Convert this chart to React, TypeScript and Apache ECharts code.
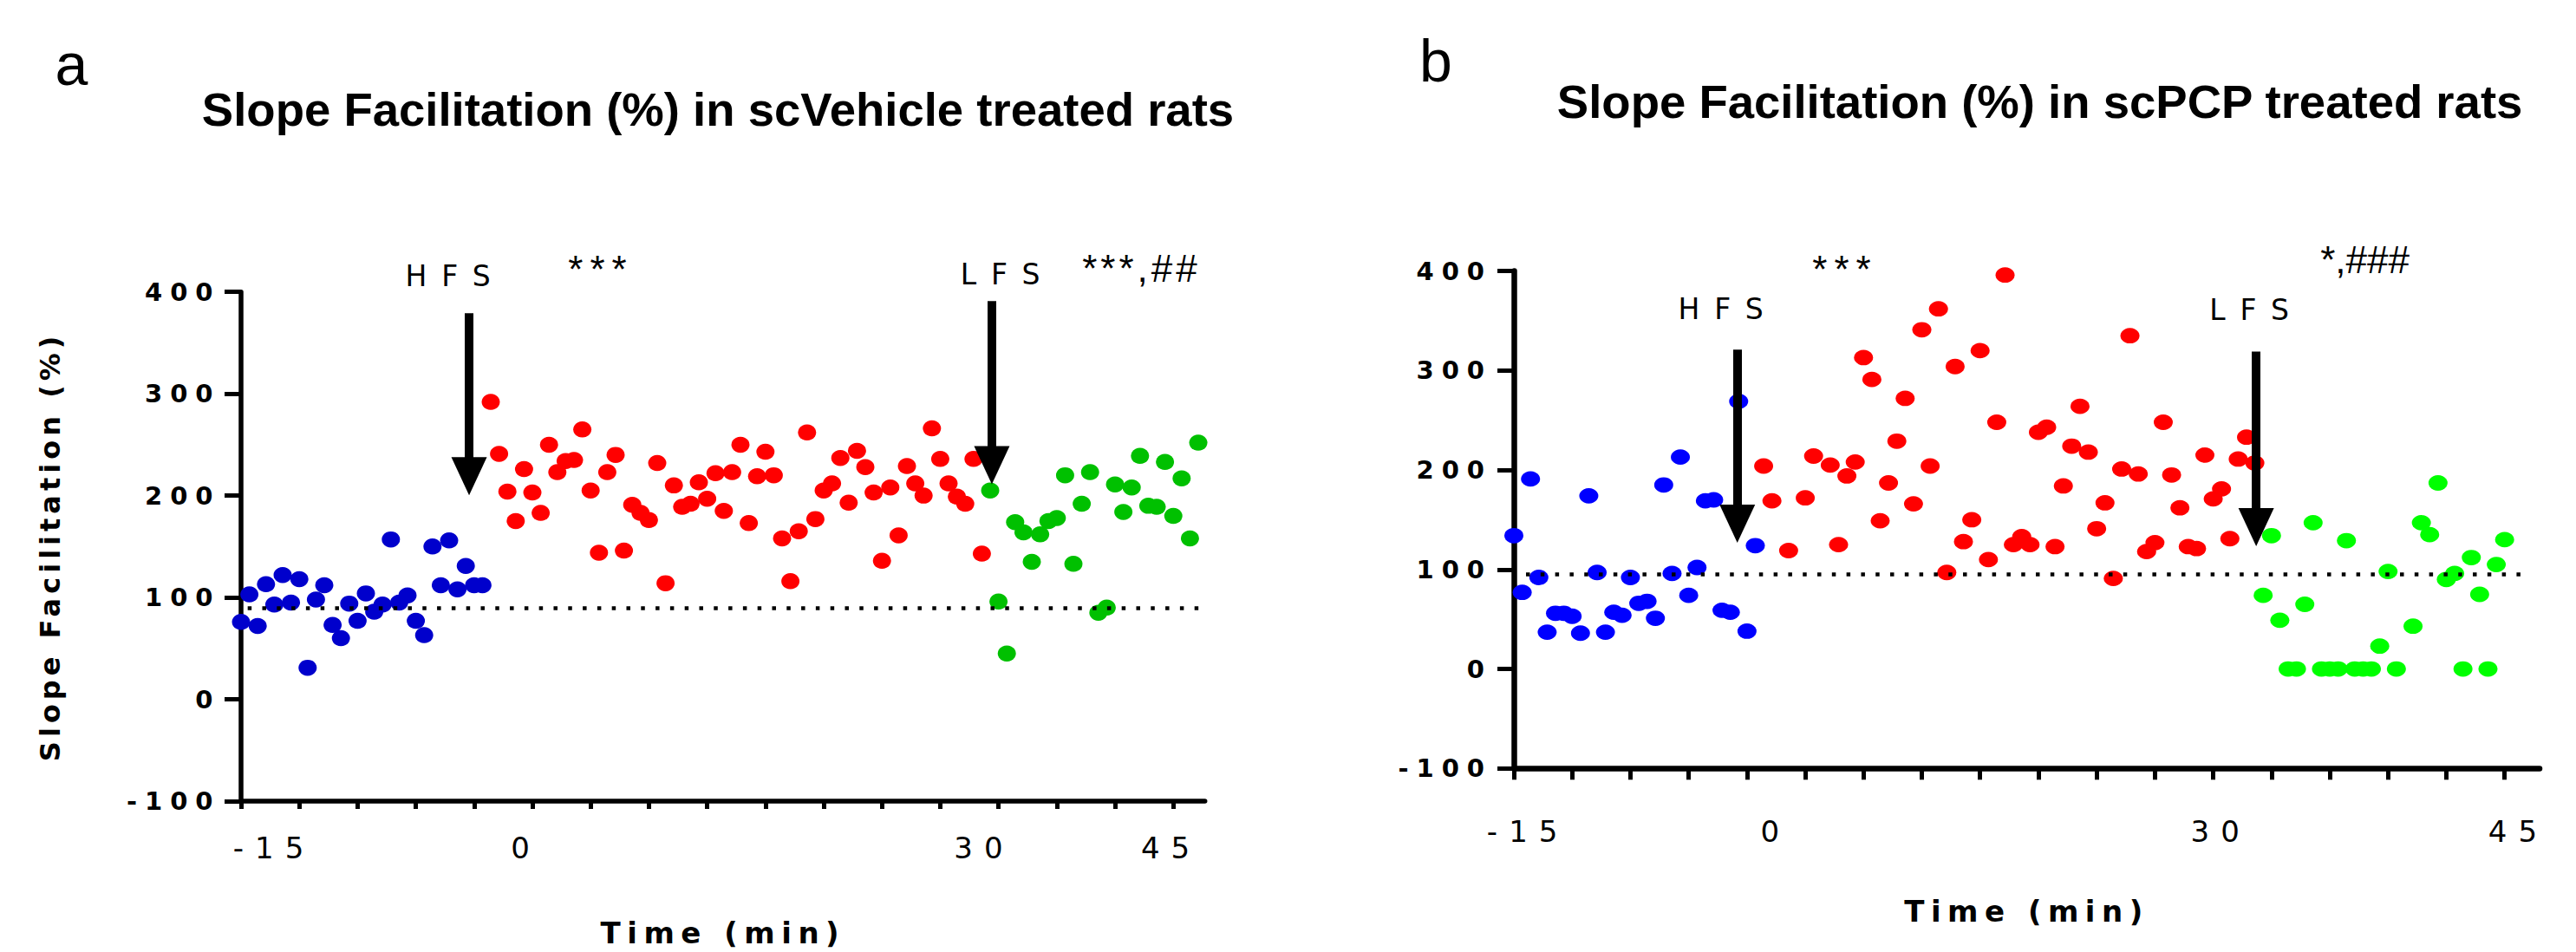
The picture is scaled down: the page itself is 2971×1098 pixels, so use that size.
import React, { useEffect, useRef } from "react";
import * as echarts from "echarts";

// ---------------- data ----------------
// one sweep every 0.5 min; baseline starts at -15 min, HFS phase at 0, LFS phase at 30
const SAMPLE_STEP = 0.5;
const BASELINE_START = -15;
const HFS_START = 0;
const LFS_START = 30;

// panel a : scVehicle treated rats
const vehicleBaseline = [76, 103, 72, 113, 93, 122, 95, 118, 31, 98, 112, 73, 60, 94, 77, 104, 86, 93, 157, 95, 102, 77, 63, 150, 112, 156, 108, 131, 112, 112];
const vehicleAfterHFS = [
  292, 241, 204, 175, 226, 203, 183, 250, 223, 234,
  235, 265, 205, 144, 223, 240, 146, 191, 183, 176,
  232, 114, 210, 189, 192, 213, 197, 222, 185, 223,
  250, 173, 219, 243, 220, 158, 116, 165, 262, 177,
  205, 212, 237, 193, 244, 228, 203, 136, 208, 161,
  229, 212, 200, 266, 236, 212, 199, 192, 236, 143,
];
const vehicleAfterLFS = [205, 96, 45, 174, 164, 135, 162, 175, 178, 220, 133, 192, 223, 85, 90, 211, 184, 208, 239, 190, 189, 233, 180, 217, 158, 252];

// panel b : scPCP treated rats (null = no point visible)
const pcpBaseline = [134, 77, 191, 92, 37, 56, 56, 53, 36, 174, 97, 37, 57, 54, 92, 66, 68, 51, 185, 96, 213, 74, 102, 169, 170, 59, 57, 269, 38, 124];
const pcpAfterHFS = [
  204, 169, null, 119, null, 172, 214, null, 205, 125,
  194, 208, 313, 291, 149, 187, 229, 272, 166, 341,
  204, 362, 97, 304, 128, 150, 320, 110, 248, 396,
  125, 133, 125, 238, 243, 123, 184, 224, 264, 218,
  141, 167, 91, 201, 335, 196, 118, 127, 248, 195,
  162, 123, 121, 215, 171, 181, 131, 211, 233, 207,
];
const pcpAfterLFS = [
  74, 134, 49, 0, 0, 65, 147, 0, 0, 0,
  129, 0, 0, 0, 23, 98, 0, null, 43, 147,
  135, 187, 90, 96, 0, 112, 75, 0, 105, 130,
];

// reference (dotted) level of each panel
const refLevelA = 90;
const refLevelB = 95;

// axes
const Y_MIN = -100;
const Y_MAX = 400;
const Y_STEP = 100;
const xTickLabels = ["-15", "0", "30", "45"];
const X_TICK_STEP = 3.5;

// stimulation arrows: [time, shaft top, head centre]
const hfsArrowA = [-1.3, 379, 219];
const lfsArrowA = [30.1, 391, 230];
const hfsArrowB = [-1.58, 321, 146];
const lfsArrowB = [29.58, 319, 142.5];

// ---------------- layout ----------------
const FONT = "'Liberation Sans', Arial, sans-serif";
const sp = (n: string) => `'Liberation Sans', zsp${n}, sans-serif`;
const dj = (n: string) => `'DejaVu Sans', zsp${n}, sans-serif`;

const xMaxA = 42.9;
const xMaxB = 46.6;
const xLabelAtA = [-13.02, 2.11, 29.63, 40.86];
const xLabelAtB = [-14.16, 0.72, 27.45, 45.32];
const ticksA = Array.from({ length: 17 }, (_, k) => BASELINE_START + X_TICK_STEP * k);
const ticksB = Array.from({ length: 18 }, (_, k) => BASELINE_START + X_TICK_STEP * k);

const CSS = `
body{margin:0}
text[style*="zsp02"]{letter-spacing:2px}
text[style*="zsp04"]{letter-spacing:4px}
text[style*="zsp05"]{letter-spacing:5px}
text[style*="zsp08"]{letter-spacing:8px}
text[style*="zsp09"]{letter-spacing:9px}
text[style*="zsp13"]{letter-spacing:13px}
text[style*="zsp17"]{letter-spacing:17px}
text[style*="zsp75"]{letter-spacing:7.5px}
`;

function toPoints(start: number, values: (number | null)[]) {
  const out: number[][] = [];
  values.forEach((v, k) => {
    if (v !== null && v !== undefined) out.push([start + k * SAMPLE_STEP, v]);
  });
  return out;
}

function labelFor(positions: number[]) {
  return (v: number) => {
    let best = 0;
    let bestD = Infinity;
    positions.forEach((p, i) => {
      const d = Math.abs(p - v);
      if (d < bestD) {
        bestD = d;
        best = i;
      }
    });
    return xTickLabels[best];
  };
}

function xAxisOf(grid: number, max: number, ticks: number[], labelAt: number[], lw: number, tickLen: number, labelMargin: number, nameGap: number) {
  return {
    type: "value",
    gridIndex: grid,
    min: BASELINE_START,
    max,
    axisLine: { show: true, onZero: false, lineStyle: { color: "#000", width: lw } },
    axisTick: { show: true, customValues: ticks, length: tickLen, lineStyle: { color: "#000", width: 5 } },
    axisLabel: {
      show: true,
      customValues: labelAt,
      formatter: labelFor(labelAt),
      margin: labelMargin,
      color: "#000",
      fontSize: 34,
      fontFamily: dj("13"),
    },
    splitLine: { show: false },
    name: "Time (min)",
    nameLocation: "middle",
    nameGap,
    nameTextStyle: { color: "#000", fontSize: 34, fontWeight: "bold", fontFamily: dj("75") },
  };
}

function yAxisOf(grid: number, lw: number, margin: number, withName: boolean) {
  const ax: any = {
    type: "value",
    gridIndex: grid,
    min: Y_MIN,
    max: Y_MAX,
    interval: Y_STEP,
    axisLine: { show: true, onZero: false, lineStyle: { color: "#000", width: lw } },
    axisTick: { show: true, length: 19, lineStyle: { color: "#000", width: 5 } },
    axisLabel: { show: true, margin, color: "#000", fontSize: 29, fontWeight: "bold", fontFamily: dj("09") },
    splitLine: { show: false },
  };
  if (withName) {
    ax.name = "Slope Facilitation (%)";
    ax.nameLocation = "middle";
    ax.nameGap = 204;
    ax.nameTextStyle = { color: "#000", fontSize: 32, fontWeight: "bold", fontFamily: dj("05") };
  }
  return ax;
}

function arrow(a: number[]) {
  return [
    { coord: [a[0], a[1]], lineStyle: { type: "solid", width: 10, color: "#000" } },
    { coord: [a[0], a[2]], symbol: "triangle", symbolSize: [41, 44] },
  ];
}

function dotted(level: number, from: number, to: number) {
  return [
    { coord: [from, level], lineStyle: { type: [4.5, 12.3], width: 4.5, color: "#000" } },
    { coord: [to, level] },
  ];
}

function scatter(grid: number, data: number[][], color: string, size: number[]) {
  return {
    type: "scatter",
    xAxisIndex: grid,
    yAxisIndex: grid,
    data,
    symbol: "circle",
    symbolSize: size,
    itemStyle: { color, opacity: 1 },
    clip: false,
    silent: true,
  };
}

function txt(text: string, x: number, y: number, fontSize: number, family: string, bold = false) {
  return {
    type: "text",
    x,
    y,
    silent: true,
    style: {
      text,
      fontSize,
      fontFamily: family,
      fontWeight: bold ? "bold" : "normal",
      fill: "#000",
      align: "center",
      verticalAlign: "middle",
    },
  };
}

export default function App() {
  const ref = useRef<HTMLDivElement>(null);

  useEffect(() => {
    if (!ref.current) return;
    const chart = echarts.init(ref.current, null, { renderer: "svg" });

    const sizeA = [21, 18.5];
    const sizeB = [22, 17.8];

    const greenASeries: any = scatter(0, toPoints(LFS_START, vehicleAfterLFS), "#00C000", sizeA);
    greenASeries.markLine = {
      silent: true,
      animation: false,
      symbol: ["none", "none"],
      label: { show: false },
      data: [dotted(refLevelA, -14.6, xMaxA), arrow(hfsArrowA), arrow(lfsArrowA)],
    };
    const greenBSeries: any = scatter(1, toPoints(LFS_START, pcpAfterLFS), "#00FF00", sizeB);
    greenBSeries.markLine = {
      silent: true,
      animation: false,
      symbol: ["none", "none"],
      label: { show: false },
      data: [dotted(refLevelB, -14.27, 46.04), arrow(hfsArrowB), arrow(lfsArrowB)],
    };

    chart.setOption({
      animation: false,
      backgroundColor: "#ffffff",
      textStyle: { fontFamily: FONT },
      grid: [
        { left: 278, top: 336.7, width: 1111.7, height: 588.8 },
        { left: 1746, top: 312.6, width: 1183, height: 573.7 },
      ],
      xAxis: [
        xAxisOf(0, xMaxA, ticksA, xLabelAtA, 5.5, 9, 36.5, 135),
        xAxisOf(1, xMaxB, ticksB, xLabelAtB, 6.5, 13, 55.3, 147.5),
      ],
      yAxis: [yAxisOf(0, 5.5, 23.5, true), yAxisOf(1, 6.5, 25, false)],
      series: [
        scatter(0, toPoints(BASELINE_START, vehicleBaseline), "#0000CC", sizeA),
        scatter(0, toPoints(HFS_START, vehicleAfterHFS), "#FF0000", sizeA),
        greenASeries,
        scatter(1, toPoints(BASELINE_START, pcpBaseline), "#0000FF", sizeB),
        scatter(1, toPoints(HFS_START, pcpAfterHFS), "#FF0000", sizeB),
        greenBSeries,
      ],
      graphic: [
        txt("a", 82.5, 73.5, 68, FONT),
        txt("b", 1656, 70.4, 68, FONT),
        txt("Slope Facilitation (%) in scVehicle treated rats", 828, 126.8, 54.5, FONT, true),
        txt("Slope Facilitation (%) in scPCP treated rats", 2352.6, 117.8, 54.5, FONT, true),
        txt("HFS", 525, 318.6, 33, dj("17")),
        txt("LFS", 1162, 316.4, 33, dj("17")),
        txt("***", 693, 310, 44, sp("08")),
        txt("***,##", 1316.5, 309, 44, sp("04")),
        txt("HFS", 1993, 356, 33, dj("17")),
        txt("LFS", 2602.5, 357, 33, dj("17")),
        txt("***", 2128, 310, 44, sp("08")),
        txt("*,###", 2727.5, 299.6, 44, FONT),
      ],
    });

    return () => chart.dispose();
  }, []);

  return (
    <>
      <style>{CSS}</style>
      <div ref={ref} style={{ width: 2971, height: 1098 }} />
    </>
  );
}
